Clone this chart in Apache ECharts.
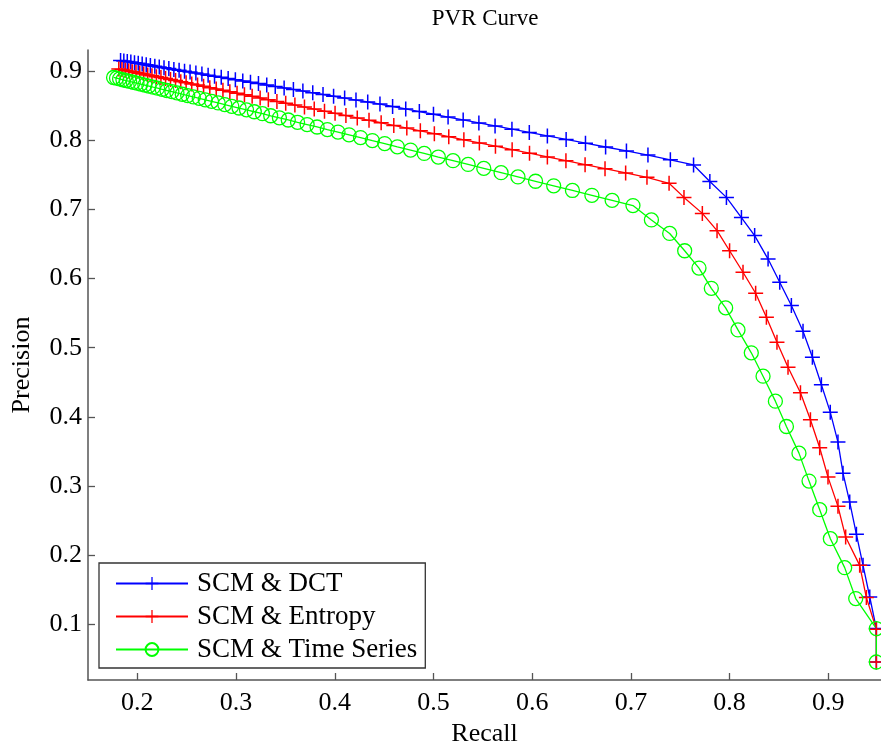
<!DOCTYPE html>
<html>
<head>
<meta charset="utf-8">
<script src="https://cdn.jsdelivr.net/npm/echarts@6/dist/echarts.min.js"></script>
<style>
html,body{margin:0;padding:0;background:#fff;}
#chart{width:881px;height:753px;}
</style>
</head>
<body>
<div id="chart"></div>
<script>
// ---- data ----
const xTicks = [0.2, 0.3, 0.4, 0.5, 0.6, 0.7, 0.8, 0.9];
const yTicks = [0.1, 0.2, 0.3, 0.4, 0.5, 0.6, 0.7, 0.8, 0.9];
const seriesNames = ['SCM & DCT', 'SCM & Entropy', 'SCM & Time Series'];

const dctRecall = [0.183, 0.1863, 0.1898, 0.1934, 0.1971, 0.2009, 0.2049, 0.2090, 0.2132, 0.2177,
  0.2222, 0.2270, 0.2319, 0.2370, 0.2423, 0.2478, 0.2534, 0.2593, 0.2654, 0.2717,
  0.2782, 0.2850, 0.2920, 0.2993, 0.3068, 0.3146, 0.3227, 0.3311, 0.3397, 0.3487,
  0.3581, 0.3677, 0.3777, 0.3881, 0.3988, 0.4100, 0.4215, 0.4334, 0.4458, 0.4586,
  0.4719, 0.4857, 0.5000, 0.5148, 0.5301, 0.5460, 0.5624, 0.5795, 0.5971, 0.6154,
  0.6344, 0.6540, 0.6744, 0.6955, 0.7173, 0.7400, 0.7635,
  0.780, 0.7968, 0.812, 0.8254, 0.839, 0.8508, 0.8626, 0.8744, 0.8839, 0.893,
  0.902, 0.9098, 0.9149, 0.9217, 0.9285, 0.9352, 0.942, 0.9487, 0.9487];
const dctPrecision = [0.9150, 0.9142, 0.9133, 0.9125, 0.9116, 0.9107, 0.9097, 0.9087, 0.9077, 0.9066,
  0.9056, 0.9044, 0.9032, 0.9020, 0.9007, 0.8994, 0.8981, 0.8967, 0.8952, 0.8937,
  0.8921, 0.8905, 0.8888, 0.8871, 0.8853, 0.8834, 0.8815, 0.8794, 0.8774, 0.8752,
  0.8730, 0.8707, 0.8682, 0.8657, 0.8632, 0.8605, 0.8577, 0.8549, 0.8519, 0.8484,
  0.8448, 0.8411, 0.8372, 0.8332, 0.8290, 0.8247, 0.8203, 0.8156, 0.8109, 0.8059,
  0.8008, 0.7954, 0.7899, 0.7842, 0.7783, 0.7714, 0.7640,
  0.740, 0.7171, 0.688, 0.6619, 0.628, 0.5945, 0.561, 0.5238, 0.4862, 0.4464,
  0.4069, 0.3636, 0.3188, 0.277, 0.2304, 0.1856, 0.1399, 0.0943, 0.046];

const entropyRecall = [0.1812, 0.1844, 0.1878, 0.1913, 0.1948, 0.1986, 0.2024, 0.2064, 0.2105, 0.2148,
  0.2193, 0.2239, 0.2286, 0.2336, 0.2387, 0.2440, 0.2494, 0.2551, 0.2610, 0.2671,
  0.2734, 0.2799, 0.2867, 0.2937, 0.3010, 0.3085, 0.3163, 0.3244, 0.3327, 0.3414,
  0.3503, 0.3596, 0.3693, 0.3792, 0.3896, 0.4003, 0.4113, 0.4228, 0.4347, 0.4470,
  0.4598, 0.4730, 0.4867, 0.5009, 0.5155, 0.5308, 0.5465, 0.5628, 0.5797, 0.5973,
  0.6154, 0.6342, 0.6536, 0.6738, 0.6947, 0.7163, 0.7387,
  0.7538, 0.7724, 0.7873, 0.8, 0.8136, 0.8264, 0.8373, 0.848, 0.8592, 0.8718,
  0.8819, 0.8913, 0.8997, 0.9098, 0.9176, 0.9318, 0.9386, 0.9487, 0.9487];
const entropyPrecision = [0.9026, 0.9017, 0.9007, 0.8997, 0.8986, 0.8975, 0.8964, 0.8952, 0.8940, 0.8928,
  0.8915, 0.8901, 0.8887, 0.8873, 0.8858, 0.8842, 0.8827, 0.8810, 0.8793, 0.8775,
  0.8756, 0.8737, 0.8717, 0.8697, 0.8676, 0.8654, 0.8631, 0.8607, 0.8583, 0.8557,
  0.8531, 0.8504, 0.8476, 0.8447, 0.8416, 0.8385, 0.8353, 0.8319, 0.8285, 0.8249,
  0.8211, 0.8173, 0.8132, 0.8091, 0.8048, 0.8003, 0.7958, 0.7910, 0.7860, 0.7809,
  0.7756, 0.7701, 0.7644, 0.7585, 0.7524, 0.7461, 0.7374,
  0.7171, 0.694, 0.669, 0.640, 0.609, 0.5786, 0.544, 0.508, 0.4718, 0.4349,
  0.3959, 0.3555, 0.3131, 0.2708, 0.2265, 0.1856, 0.139, 0.0933, 0.046];

const timeSeriesRecall = [0.1759, 0.1789, 0.1820, 0.1854, 0.1887, 0.1922, 0.1959, 0.1996, 0.2035, 0.2076,
  0.2117, 0.2161, 0.2205, 0.2252, 0.2300, 0.2350, 0.2401, 0.2455, 0.2510, 0.2567,
  0.2627, 0.2688, 0.2752, 0.2818, 0.2886, 0.2957, 0.3030, 0.3106, 0.3185, 0.3267,
  0.3351, 0.3439, 0.3529, 0.3623, 0.3720, 0.3821, 0.3925, 0.4033, 0.4145, 0.4261,
  0.4381, 0.4506, 0.4634, 0.4768, 0.4906, 0.5049, 0.5198, 0.5351, 0.5510, 0.5685,
  0.5856, 0.6034, 0.6218, 0.6408, 0.6605, 0.6810, 0.7021,
  0.7208, 0.7393, 0.7545, 0.769, 0.7815, 0.796, 0.8085, 0.822, 0.8339, 0.8464,
  0.8576, 0.8703, 0.8805, 0.8913, 0.9021, 0.9166, 0.9278, 0.9487, 0.9487];
const timeSeriesPrecision = [0.8903, 0.8893, 0.8882, 0.8870, 0.8859, 0.8846, 0.8834, 0.8821, 0.8807, 0.8793,
  0.8779, 0.8763, 0.8748, 0.8732, 0.8715, 0.8698, 0.8680, 0.8661, 0.8642, 0.8622,
  0.8602, 0.8580, 0.8558, 0.8535, 0.8512, 0.8487, 0.8462, 0.8435, 0.8408, 0.8380,
  0.8350, 0.8320, 0.8289, 0.8256, 0.8223, 0.8188, 0.8151, 0.8114, 0.8075, 0.8035,
  0.7992, 0.7948, 0.7902, 0.7855, 0.7806, 0.7754, 0.7701, 0.7647, 0.7590, 0.7528,
  0.7467, 0.7404, 0.7338, 0.7271, 0.7201, 0.7128, 0.7053,
  0.6845, 0.665, 0.640, 0.615, 0.5858, 0.5575, 0.5257, 0.4926, 0.4588, 0.4228,
  0.3862, 0.3477, 0.3073, 0.266, 0.2241, 0.1823, 0.1376, 0.0943, 0.046];

// ---- chart ----
const FONT = '"Liberation Serif", "Times New Roman", serif';
const PLUS = 'path://M-0.1,-1L0.1,-1L0.1,-0.1L1,-0.1L1,0.1L0.1,0.1L0.1,1L-0.1,1L-0.1,0.1L-1,0.1L-1,-0.1L-0.1,-0.1Z';
const AXIS_COLOR = '#555';

function pairs(xs, ys) { return xs.map((x, i) => [x, ys[i]]); }

const chart = echarts.init(document.getElementById('chart'), null, {renderer: 'canvas'});
chart.setOption({
  animation: false,
  backgroundColor: '#fff',
  graphic: [{
    type: 'text', x: 485, y: 19,
    style: {text: 'PVR Curve', fontFamily: FONT, fontSize: 23, fill: '#000', align: 'center', verticalAlign: 'middle'}
  }],
  grid: {left: 88, right: 0, top: 50, bottom: 73, containLabel: false},
  legend: {
    orient: 'vertical', left: 99, top: 563,
    data: seriesNames,
    backgroundColor: '#fff', borderColor: '#333', borderWidth: 1.3,
    padding: [7, 8, 5, 16],
    itemWidth: 72, itemHeight: 16, itemGap: 6,
    textStyle: {fontFamily: FONT, fontSize: 27, color: '#000', lineHeight: 26, padding: [0, 0, 0, 4]}
  },
  xAxis: {
    type: 'value', min: 0.15, max: 0.9534,
    name: 'Recall', nameLocation: 'middle', nameGap: 40,
    nameTextStyle: {fontFamily: FONT, fontSize: 26, color: '#000'},
    axisLine: {show: true, onZero: false, lineStyle: {color: AXIS_COLOR, width: 1.5}},
    axisTick: {show: true, inside: true, length: 7, lineStyle: {color: AXIS_COLOR, width: 1.3}, customValues: xTicks},
    axisLabel: {fontFamily: FONT, fontSize: 26, color: '#000', margin: 10, customValues: xTicks,
      formatter: v => (+v).toFixed(1)},
    splitLine: {show: false}
  },
  yAxis: {
    type: 'value', min: 0.02, max: 0.93,
    name: 'Precision', nameLocation: 'middle', nameGap: 53,
    nameTextStyle: {fontFamily: FONT, fontSize: 26, color: '#000'},
    axisLine: {show: true, onZero: false, lineStyle: {color: AXIS_COLOR, width: 1.5}},
    axisTick: {show: true, inside: true, length: 7, lineStyle: {color: AXIS_COLOR, width: 1.3}, customValues: yTicks},
    axisLabel: {fontFamily: FONT, fontSize: 26, color: '#000', margin: 6, customValues: yTicks,
      formatter: v => (+v).toFixed(1)},
    splitLine: {show: false}
  },
  series: [
    {
      name: seriesNames[0], type: 'line', data: pairs(dctRecall, dctPrecision),
      symbol: PLUS, symbolSize: 15, clip: false,
      lineStyle: {color: '#0000ff', width: 1.3},
      itemStyle: {color: '#0000ff'}
    },
    {
      name: seriesNames[1], type: 'line', data: pairs(entropyRecall, entropyPrecision),
      symbol: PLUS, symbolSize: 15, clip: false,
      lineStyle: {color: '#ff0000', width: 1.3},
      itemStyle: {color: '#ff0000'}
    },
    {
      name: seriesNames[2], type: 'line', data: pairs(timeSeriesRecall, timeSeriesPrecision),
      symbol: 'circle', symbolSize: 14, clip: false,
      lineStyle: {color: '#00ff00', width: 1.3},
      itemStyle: {color: 'rgba(0,0,0,0)', borderColor: '#00ff00', borderWidth: 1.3}
    }
  ]
});
</script>
</body>
</html>
